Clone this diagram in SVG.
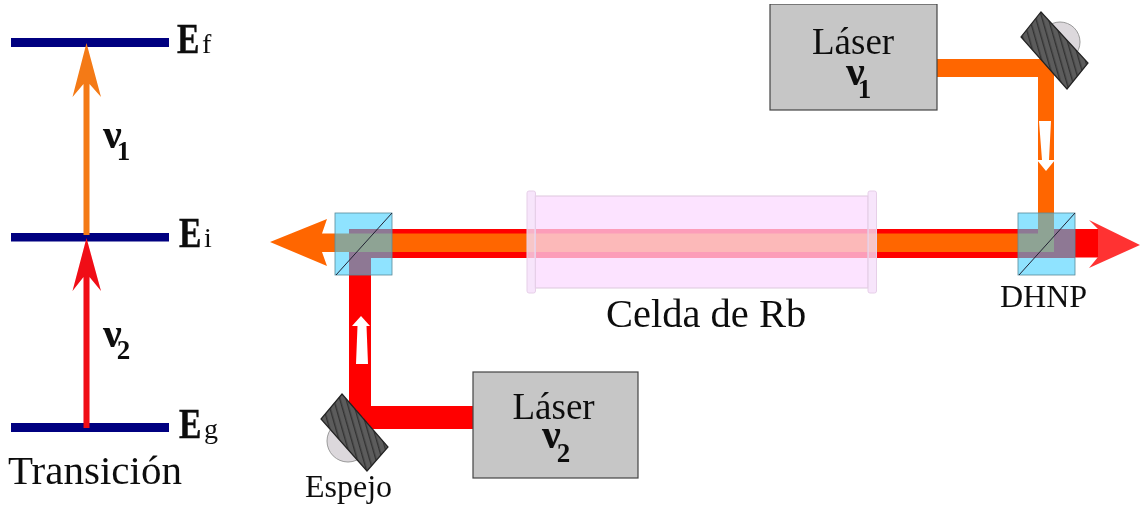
<svg xmlns="http://www.w3.org/2000/svg" width="1140" height="508" viewBox="0 0 1140 508">
<style>
text{font-family:"Liberation Serif","Times New Roman",serif;fill:#111}
.big{font-size:40.500px}
.cap{font-size:41px}
.lab{font-size:32px}
.las{font-size:37px}
.e{font-size:42px;font-weight:bold;stroke:#111;stroke-width:.5}
.sub{font-size:28px}
.nu{font-size:42px;font-weight:bold}
.n{font-size:27px;font-weight:bold}
.lv{fill:#000080}
.box{fill:#c6c6c6;stroke:#444;stroke-width:1.200}
.cube{fill:rgb(61,207,255);fill-opacity:.58;stroke:#5a8a9a;stroke-width:.8}
.diag{stroke:#223;stroke-width:1;fill:none}
.mir{fill:url(#h);stroke:#222;stroke-width:1.200}
.dome{fill:#dcd8dc;stroke:#999;stroke-width:1}
.fl{fill:rgb(245,222,250);fill-opacity:.8;stroke:#e6cfe8;stroke-width:1}
</style>
<defs>
<pattern id="h" width="6" height="6" patternUnits="userSpaceOnUse" patternTransform="rotate(-16)">
<rect width="6" height="6" fill="#5c5c5c"/><rect width="1.400" height="6" fill="#333"/>
</pattern>
<filter id="s" x="0" y="0" width="100%" height="100%"><feGaussianBlur stdDeviation="0.45"/></filter>
</defs>
<rect width="1140" height="508" fill="#fff"/>
<g filter="url(#s)">
<g id="level-f"><rect class="lv" x="11" y="38" width="158" height="9"/><text class="e" transform="translate(177 53) scale(.8 1)">E</text><text class="sub" x="202" y="53">f</text></g>
<g id="level-i"><rect class="lv" x="11" y="233" width="158" height="8.500"/><text class="e" transform="translate(179 247) scale(.8 1)">E</text><text class="sub" x="204" y="247">i</text></g>
<g id="level-g"><rect class="lv" x="11" y="423" width="158" height="9"/><text class="e" transform="translate(179 438) scale(.8 1)">E</text><text class="sub" x="204" y="438">g</text></g>
<g id="connectors">
<path fill="#f47a14" d="M86.500 43L101 97L89.500 84V235H83.500V84L72.500 97Z"/>
<path fill="#f00a14" d="M86.500 238L101 291L89.500 277V428H83.500V277L72.500 291Z"/>
<path fill="#ff3333" d="M1089 220L1140 245L1089 268L1098 257V229Z"/>
<rect x="1070" y="229" width="28" height="28.500" fill="#ff0000"/>
<path fill="#ff0000" d="M349 258V229H1075V258H371V406H473V429H372L349 410Z"/>
<rect x="322" y="233.500" width="732" height="18.500" fill="#ff6600"/>
<rect x="1038" y="59" width="16" height="193" fill="#ff6600"/>
<rect x="937" y="59" width="117" height="18" fill="#ff6600"/>
<path fill="#ff6600" d="M270 242L327 219L322 233.500V252L327 266Z"/>
<path fill="#fff" d="M1039 121H1051L1049 160H1055L1046 171L1037 160H1042Z"/>
<path fill="#fff" d="M361 316L370 326H366.500L368 364H356L357.500 326H352Z"/>
</g>
<g id="cell-rb">
<rect x="535" y="196" width="333" height="92" fill="rgb(251,217,255)" fill-opacity=".725" stroke="#ddc8dd" stroke-width="1"/>
<rect class="fl" x="527" y="191" width="8.500" height="102" rx="2"/>
<rect class="fl" x="868" y="191" width="8.500" height="102" rx="2"/>
<text class="big" x="606" y="327">Celda de Rb</text>
</g>
<g id="cube-left"><rect class="cube" x="335" y="213" width="57" height="62"/><path class="diag" d="M336 275L392 213"/></g>
<g id="cube-right"><rect class="cube" x="1018" y="213" width="57" height="62"/><path class="diag" d="M1019 275L1075 213"/><text class="lab" x="1000" y="307">DHNP</text></g>
<g id="mirror-right"><circle class="dome" cx="1060" cy="42" r="20"/><path class="mir" d="M1041 12L1088 63L1067 89L1021 37Z"/></g>
<g id="mirror-left"><circle class="dome" cx="348" cy="441" r="21"/><path class="mir" d="M342 394L388 447L367 471L321 419Z"/><text class="lab" x="305" y="497">Espejo</text></g>
<g id="laser-1"><rect class="box" x="770" y="4" width="167" height="106"/><text class="las" x="812" y="54">Láser</text><text class="nu" x="846" y="85">ν<tspan class="n" dx="-7" dy="13">1</tspan></text></g>
<g id="laser-2"><rect class="box" x="473" y="372" width="165" height="106"/><text class="las" x="512.500" y="419">Láser</text><text class="nu" x="542" y="448">ν<tspan class="n" dx="-4" dy="14">2</tspan></text></g>
<g id="nu-1"><text class="nu" x="103" y="148">ν<tspan class="n" dx="-5" dy="12">1</tspan></text></g>
<g id="nu-2"><text class="nu" x="103" y="347">ν<tspan class="n" dx="-5" dy="12">2</tspan></text></g>
<g id="caption"><text class="cap" x="8" y="484">Transición</text></g>
</g>
</svg>
